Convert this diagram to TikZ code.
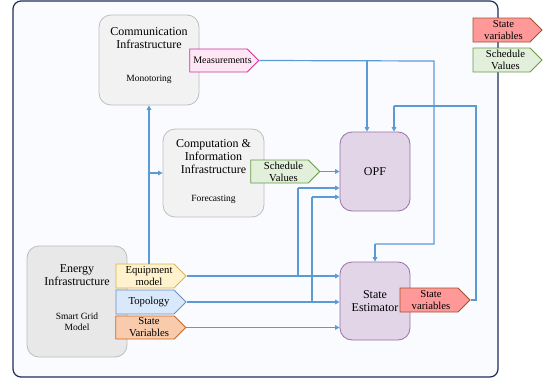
\documentclass[tikz,border=0pt]{standalone}
\usepackage{fontspec}
\setmainfont{Liberation Serif}
\usetikzlibrary{shapes.symbols,arrows.meta,calc}
\definecolor{frameC}{HTML}{1E2D5C}
\definecolor{frameF}{HTML}{FAFBFE}
\definecolor{greyF}{HTML}{F2F2F2}
\definecolor{greyF2}{HTML}{E8E8E8}
\definecolor{greyD}{HTML}{BDBDBD}
\definecolor{purF}{HTML}{E1D5E7}
\definecolor{purD}{HTML}{9673A6}
\definecolor{pinkF}{HTML}{FFE6F5}
\definecolor{pinkD}{HTML}{CC3399}
\definecolor{grnF}{HTML}{E2EFDA}
\definecolor{grnD}{HTML}{6A9A4A}
\definecolor{redF}{HTML}{FF9999}
\definecolor{redD}{HTML}{A0522D}
\definecolor{ylwF}{HTML}{FFF2CC}
\definecolor{ylwD}{HTML}{D6B656}
\definecolor{bluF}{HTML}{DAE8FC}
\definecolor{bluD}{HTML}{6C8EBF}
\definecolor{orgF}{HTML}{F8CBAD}
\definecolor{orgD}{HTML}{D0651F}
\definecolor{lineC}{HTML}{5B9BD5}
\begin{document}
\begin{tikzpicture}[x=1pt,y=-1pt,
  box/.style={rectangle,rounded corners=12pt,draw=greyD,fill=greyF,line width=0.8pt,inner sep=0pt},
  pbox/.style={rectangle,rounded corners=12pt,draw=purD,fill=purF,line width=0.8pt,inner sep=0pt,
     font=\fontsize{12}{13}\selectfont,align=center},
  title/.style={font=\fontsize{12}{13}\selectfont,align=center,inner sep=0pt},
  sub/.style={font=\fontsize{9.5}{11}\selectfont,align=center,inner sep=0pt},
  tag/.style={signal,signal to=east,line width=0.8pt,minimum width=69pt,minimum height=23pt,
     inner sep=0pt},
  tagtext/.style={font=\fontsize{10.7}{12}\selectfont,align=center,inner sep=0pt},
  conn/.style={draw=lineC,line width=1.2pt},
  arr/.style={conn,-{Triangle[length=4.5pt,width=4.5pt]}}
]
\useasboundingbox (0,0) rectangle (548,380);
\draw[frameC,fill=frameF,line width=1.2pt,rounded corners=8pt] (13,1) rectangle (498,377);

% boxes
\node[box,minimum width=100pt,minimum height=90pt] (comm) at (149,60) {};
\node[title] (commT) at (149,38.5) {Communication\\Infrastructure};
\node[sub] (commS) at (149,79) {Monotoring};

\node[box,minimum width=101pt,minimum height=88pt] (comp) at (213.5,173) {};
\node[title] (compT) at (213.5,156.5) {Computation \&\\Information\\Infrastructure};
\node[sub] (compS) at (213.5,199) {Forecasting};

\node[box,fill=greyF2,minimum width=100pt,minimum height=111pt] (energy) at (77,301.5) {};
\node[title] (energyT) at (77,275.5) {Energy\\Infrastructure};
\node[sub] (energyS) at (77,321.5) {Smart Grid\\Model};

\node[pbox,minimum width=70pt,minimum height=79pt] (opf) at (375,171.5) {OPF};
\node[pbox,minimum width=70pt,minimum height=78pt] (se) at (375,301) {State\\Estimator};

% tags
\node[tag,draw=pinkD,fill=pinkF] (meas) at (218.5,60.5) {};
\node[tagtext,font=\fontsize{10}{12}\selectfont] (measT) at ([xshift=4pt]meas.center) {Measurements};
\node[tag,draw=grnD,fill=grnF] (sched) at (279.5,171.5) {};
\node[tagtext] (schedT) at ([xshift=4pt]sched.center) {Schedule\\Values};
\node[tag,draw=redD,fill=redF,minimum height=24pt] (legR) at (501.5,30) {};
\node[tagtext] (legRT) at ([xshift=2pt]legR.center) {State\\variables};
\node[tag,draw=grnD,fill=grnF,minimum height=24pt] (legG) at (501.5,60) {};
\node[tagtext] (legGT) at ([xshift=4pt]legG.center) {Schedule\\Values};
\node[tag,draw=ylwD,fill=ylwF,minimum width=70pt,minimum height=24pt] (equip) at (145,276) {};
\node[tagtext] (equipT) at ([xshift=4pt]equip.center) {Equipment\\model};
\node[tag,draw=bluD,fill=bluF,minimum width=70pt,minimum height=24pt] (topo) at (145,302) {};
\node[tagtext] (topoT) at ([xshift=4pt]topo.center) {Topology};
\node[tag,draw=orgD,fill=orgF,minimum width=70pt,minimum height=23pt] (svar) at (145,327.5) {};
\node[tagtext] (svarT) at ([xshift=4pt]svar.center) {State\\Variables};
\node[tag,draw=redD,fill=redF,minimum width=70pt,minimum height=24pt] (sevar) at (429,300) {};
\node[tagtext] (sevarT) at ([xshift=2pt]sevar.center) {State\\variables};

% bend coordinates
\coordinate (m1) at (367,61);
\coordinate (m2) at (434,61);
\coordinate (m3) at (434,244);
\coordinate (m4) at (375,244);
\coordinate (s1) at (476,300);
\coordinate (s2) at (476,106);
\coordinate (s3) at (394,106);
\coordinate (e1) at (298,276);
\coordinate (e2) at (298,188);
\coordinate (t1) at (312,302);
\coordinate (t2) at (312,197);

% connectors
\draw[conn] (meas.east) -- (m2) -- (m3) -- (m4);
\draw[arr] (m4) -- (se.north);
\draw[arr] (m1) -- (m1 |- opf.north);
\draw[conn] (sevar.east) -- (s1) -- (s2) -- (s3);
\draw[arr] (s3) -- (s3 |- opf.north);
\draw[arr] (sched.east) -- (sched.east -| opf.west);
\draw[arr] (equip.east) -- (equip.east -| se.west);
\draw[arr] (topo.east) -- (topo.east -| se.west);
\draw[arr] (svar.east) -- (svar.east -| se.west);
\draw[conn] (e1) -- (e2);
\draw[arr] (e2) -- (e2 -| opf.west);
\draw[conn] (t1) -- (t2);
\draw[arr] (t2) -- (t2 -| opf.west);
\draw[arr] (equip.north -| comm.south) -- (comm.south);
\draw[arr] (comm.south |- comp.west) -- (comp.west);
\end{tikzpicture}
\end{document}
